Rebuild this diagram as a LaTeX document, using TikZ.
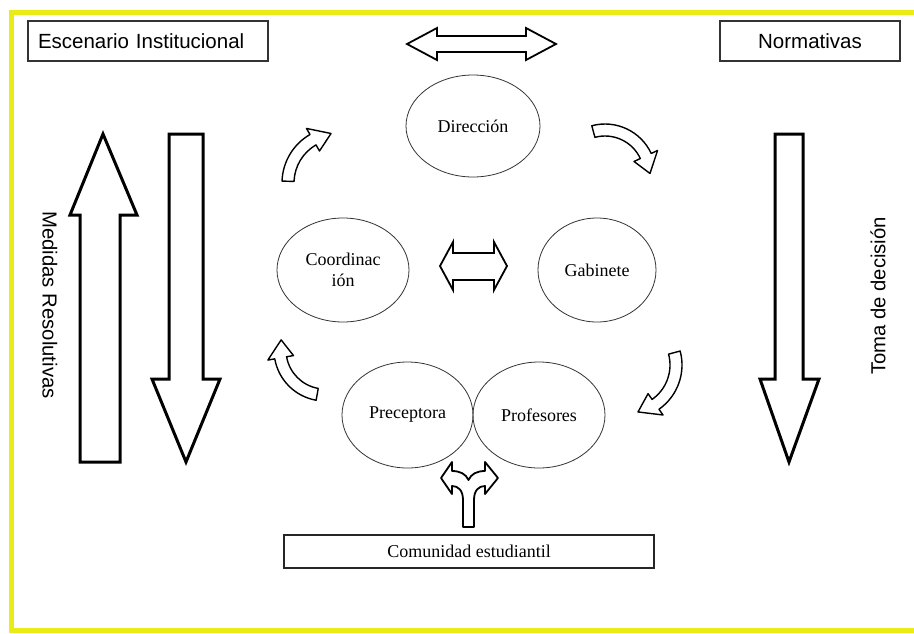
\documentclass[tikz,border=0pt]{standalone}
\usepackage{fontspec}
\setmainfont{Liberation Serif}
\newfontfamily\arialf{Liberation Sans}
\usetikzlibrary{calc,shapes.geometric}
\definecolor{frameyellow}{RGB}{234,236,24}
\tikzset{
 sanslabel/.style={font=\arialf\fontsize{20.3}{24}\selectfont, inner sep=0pt},
 topbox/.style={draw=black!80, line width=1.2pt, fill=white, font=\arialf\fontsize{20.5}{24}\selectfont},
 oval/.style={ellipse, draw=black!80, line width=0.8pt, inner sep=0pt, font=\fontsize{18}{20.5}\selectfont, align=center},
 bigarrow/.style={draw=black, line width=3pt, line join=miter, fill=white},
 dblarrow/.style={draw=black, line width=1.8pt, fill=white, line join=miter},
 curvarrow/.style={draw=black, line width=1.4pt, fill=white, line join=round},
}
\newcommand{\mycurvearrow}[5]{%
 \draw[curvarrow] ($(#1)+({#3}:{#2+6})$) arc[start angle={#3}, end angle={#4}, radius={#2+6}]
  -- ($(#1)+({#4}:{#2+13})$) -- ($(#1)+({#5}:{#2})$) -- ($(#1)+({#4}:{#2-13})$)
  -- ($(#1)+({#4}:{#2-6})$) arc[start angle={#4}, end angle={#3}, radius={#2-6}] -- cycle;
}
\begin{document}
\begin{tikzpicture}[x=1pt,y=-1pt]
\useasboundingbox (0,0) rectangle (914,633);
\fill[white] (0,0) rectangle (914,633);
\draw[frameyellow, line width=5pt] (11,12) rectangle (940,630);

% top boxes
\node[topbox, minimum width=240pt, minimum height=40pt, inner xsep=10pt, text width=220pt, align=left] (esc) at (148,41) {Escenario Institucional};
\node[topbox, minimum width=180pt, minimum height=40pt] (norm) at (810,41) {Normativas};

% top double arrow
\draw[dblarrow] (407,44) -- (437,28) -- (437,36) -- (526,36) -- (526,28) -- (556,44) -- (526,60) -- (526,52) -- (437,52) -- (437,60) -- cycle;

% ellipses
\node[oval, minimum width=134pt, minimum height=102pt] (dir) at (473,126) {Dirección};
\node[oval, minimum width=132pt, minimum height=104pt] (coord) at (343,270) {Coordinac\\ión};
\node[oval, minimum width=118pt, minimum height=104pt] (gab) at (597,270) {Gabinete};
\node[oval, minimum width=131pt, minimum height=106pt] (prec) at (407.5,415) {Preceptora};
\node[oval, minimum width=132pt, minimum height=106pt] (prof) at (539,415) {Profesores};

% middle double arrow
\draw[dblarrow] (440,266) -- (453,242) -- (453,253) -- (494,253) -- (494,242) -- (507,266) -- (494,290) -- (494,280) -- (453,280) -- (453,290) -- cycle;

% curved arrows
\mycurvearrow{338,183}{50}{182}{240}{262}
\mycurvearrow{605,175}{45}{255}{335}{358}
\mycurvearrow{628,365}{48}{345}{415}{438}
\mycurvearrow{325,350}{45}{100}{170}{193}

% fork arrow
\draw[dblarrow, line join=round] (463,527) -- (463,500) .. controls (463,490) and (458,486) .. (452,486) -- (452,494) -- (441,478) -- (452,462) -- (452,471) .. controls (460,471) and (466,474) .. (468.5,480) .. controls (471,474) and (477,471) .. (485,471) -- (485,462) -- (498,478) -- (485,494) -- (485,486) .. controls (479,486) and (474,490) .. (474,500) -- (474,527) -- cycle;

% community box
\node[draw=black!85, line width=1.2pt, minimum width=370pt, minimum height=33pt, font=\fontsize{18}{20.5}\selectfont] (com) at (469,551.5) {Comunidad estudiantil};

% big arrows
\draw[bigarrow] (103,134) -- (137,215) -- (120,215) -- (120,462) -- (80,462) -- (80,215) -- (70,215) -- cycle;
\draw[bigarrow] (169,134) -- (203,134) -- (203,379) -- (220,379) -- (186,462) -- (152,379) -- (169,379) -- cycle;
\draw[bigarrow] (775,134) -- (803,134) -- (803,379) -- (819,379) -- (789,462) -- (760,379) -- (775,379) -- cycle;

% side labels
\node[sanslabel, rotate=-90] (med) at (50,305) {Medidas Resolutivas};
\node[sanslabel, rotate=90] (toma) at (878,296) {Toma de decisión};
\end{tikzpicture}
\end{document}
